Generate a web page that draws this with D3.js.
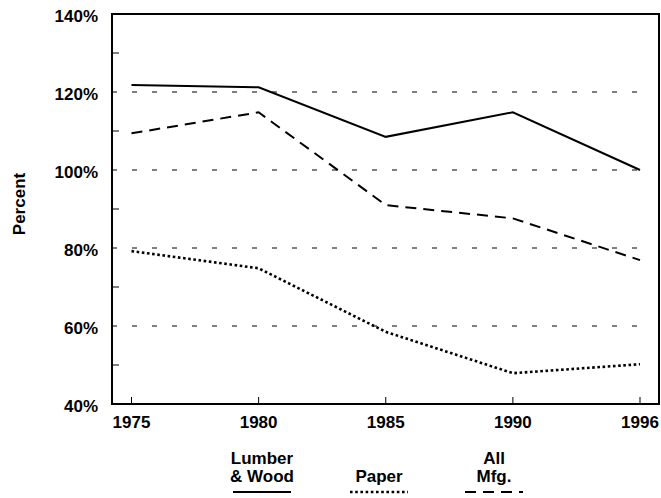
<!DOCTYPE html>
<meta charset="utf-8">
<style>
    body { margin: 0; background: #fff; }
    text { font-family: "Liberation Sans", Arial, sans-serif; font-weight: bold; font-size: 17px; fill: #000; }
    .frame { fill: none; stroke: #000; stroke-width: 2; }
    .grid line { stroke: #000; stroke-width: 1; stroke-dasharray: 5,15; }
    .tick-mark { stroke: #000; stroke-width: 1; }
    .series { fill: none; stroke: #000; stroke-width: 2; }
</style>
<body>
<script src="https://cdnjs.cloudflare.com/ajax/libs/d3/7.8.5/d3.min.js"></script>
<script>
    // data
    var years = ["1975", "1980", "1985", "1990", "1996"];
    var lumberWood = [121.8, 121.2, 108.5, 114.8, 100];
    var paper = [79.2, 74.8, 58.5, 47.9, 50.2];
    var allMfg = [109.4, 114.8, 91.0, 87.6, 76.9];
    var yTicks = [40, 60, 80, 100, 120, 140];
    var yMinor = [50, 70, 90, 110, 130];
    var yGrid = [60, 80, 100, 120];

    var series = [
        {name: ["Lumber", "& Wood"], values: lumberWood, dash: null},
        {name: ["Paper"], values: paper, dash: "2.6,2.6", width: 2.6},
        {name: ["All", "Mfg."], values: allMfg, dash: "11,7"}
    ];
    // legend layout (centre x of each entry)
    var legendX = [262, 379, 494];

    var margin = {top: 14, left: 112},
        width = 547,
        height = 390;

    var svg = d3.select("body").append("svg")
        .attr("width", 661)
        .attr("height", 498);

    var g = svg.append("g")
        .attr("transform", "translate(" + margin.left + "," + margin.top + ")");

    var x = d3.scalePoint()
        .domain(years)
        .range([19.5, 528]);
    var y = d3.scaleLinear()
        .domain([40, 140])
        .range([height, 0]);

    // dashed grid
    g.append("g").attr("class", "grid")
        .selectAll("line").data(yGrid).enter().append("line")
        .attr("x1", 0).attr("x2", width - 10)
        .attr("y1", function(d) { return y(d); })
        .attr("y2", function(d) { return y(d); });

    // minor ticks on y
    g.selectAll("line.ymin").data(yMinor).enter().append("line")
        .attr("class", "tick-mark")
        .attr("x1", 0).attr("x2", 7)
        .attr("y1", function(d) { return y(d); })
        .attr("y2", function(d) { return y(d); });

    // x ticks (inside, pointing up)
    g.selectAll("line.xt").data(years).enter().append("line")
        .attr("class", "tick-mark")
        .attr("x1", function(d) { return x(d); })
        .attr("x2", function(d) { return x(d); })
        .attr("y1", height).attr("y2", height - 7);

    // y labels
    g.selectAll("text.yl").data(yTicks).enter().append("text")
        .attr("x", -14)
        .attr("y", function(d) { return y(d) + 8; })
        .style("text-anchor", "end")
        .text(function(d) { return d + "%"; });

    // x labels
    g.selectAll("text.xl").data(years).enter().append("text")
        .attr("x", function(d) { return x(d); })
        .attr("y", height + 24)
        .style("text-anchor", "middle")
        .text(function(d) { return d; });

    g.append("text")
        .attr("transform", "translate(-87," + (height / 2 - 5) + ") rotate(-90)")
        .style("text-anchor", "middle")
        .text("Percent");

    var line = d3.line()
        .x(function(d, i) { return x(years[i]); })
        .y(function(d) { return y(d); });

    g.selectAll("path.series").data(series).enter().append("path")
        .attr("class", "series")
        .attr("d", function(d) { return line(d.values); })
        .style("stroke-width", function(d) { return d.width || 2; })
        .style("stroke-dasharray", function(d) { return d.dash; });

    // frame
    g.append("rect").attr("class", "frame")
        .attr("x", 0).attr("y", 0)
        .attr("width", width).attr("height", height);

    // legend
    var leg = svg.selectAll("g.legend").data(series).enter().append("g")
        .attr("class", "legend")
        .attr("transform", function(d, i) { return "translate(" + legendX[i] + ",0)"; });
    leg.each(function(d) {
        var el = d3.select(this);
        var n = d.name.length;
        d.name.forEach(function(t, j) {
            el.append("text")
                .attr("x", 0)
                .attr("y", 482 - (n - 1 - j) * 18)
                .style("text-anchor", "middle")
                .text(t);
        });
        el.append("line")
            .attr("class", "series")
            .attr("x1", -29).attr("x2", 29)
            .attr("y1", 492).attr("y2", 492)
            .style("stroke-width", d.width || 2)
            .style("stroke-dasharray", d.dash);
    });
</script>
